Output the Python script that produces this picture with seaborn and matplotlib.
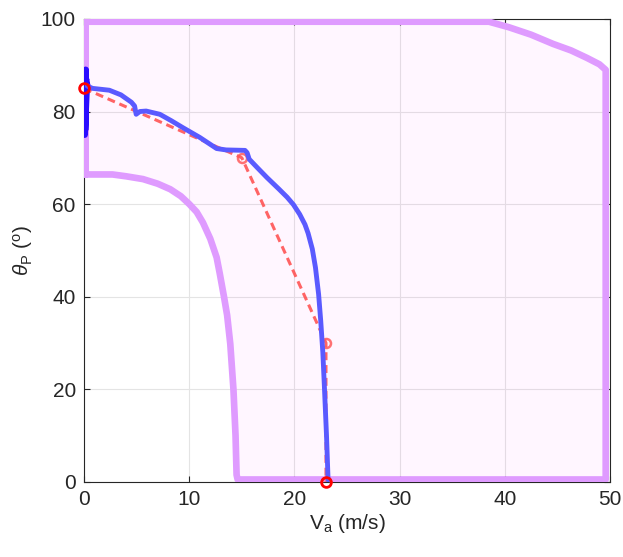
import matplotlib
matplotlib.use("Agg")
import matplotlib.pyplot as plt
import numpy as np
import pandas as pd
import seaborn as sns

# Feasible operating envelope (airspeed vs. pitch angle)
envelope_va = [0.15, 0.15, 38.5, 40.4, 42.5, 44.6, 46.3, 47.8, 49.0, 49.6,
               49.6, 14.6, 14.5, 14.4, 14.2, 13.9, 13.6, 13.3, 12.9, 12.6,
               12.0, 11.3, 10.7, 10.0, 9.2, 8.2, 7.0, 5.6, 4.0, 2.7, 0.15]
envelope_theta = [66.4, 99.4, 99.4, 98.2, 96.6, 94.6, 93.2, 91.6, 90.2, 89.0,
                  0.5, 0.5, 1.5, 10.0, 20.0, 29.8, 36.0, 40.0, 45.0, 48.5,
                  52.5, 56.0, 58.3, 60.0, 61.7, 63.2, 64.4, 65.4, 66.0, 66.4,
                  66.4]

# Initial transient at take-off
transient_va = [0.10, 0.15, 0.05, 0.15, 0.08, 0.18, 0.10, 0.25, 0.30]
transient_theta = [85.0, 89.0, 75.0, 88.0, 76.0, 87.0, 78.0, 86.0, 85.5]

# Flown transition trajectory
traj_va = [0.3, 0.8, 2.4, 3.5, 4.5, 4.8, 4.95, 5.3, 5.9, 7.2, 8.3, 9.4,
           11.0, 12.6, 13.5, 15.3, 15.5, 15.7, 16.5, 17.4, 18.5, 19.3, 19.9,
           20.5, 21.0, 21.3, 21.7, 22.0, 22.3, 22.5, 22.7, 22.85, 23.05, 23.2]
traj_theta = [85.5, 85.0, 84.6, 83.6, 82.0, 81.2, 79.4, 80.0, 80.1, 79.4,
              78.0, 76.5, 74.4, 72.0, 71.7, 71.6, 71.1, 69.7, 67.8, 65.7,
              63.3, 61.5, 59.9, 57.8, 55.6, 53.7, 50.3, 46.3, 40.5, 34.8,
              28.0, 20.5, 10.0, 0.4]

# Reference waypoints
ref_va = [0, 15, 23, 23]
ref_theta = [85, 70, 30, 0]

x_ticks = [0, 10, 20, 30, 40, 50]
y_ticks = [0, 20, 40, 60, 80, 100]

sns.set_theme(style="white")
plt.rcParams["font.family"] = ["Liberation Sans", "DejaVu Sans"]
plt.rcParams["mathtext.fontset"] = "custom"
plt.rcParams["mathtext.rm"] = "Liberation Sans"
plt.rcParams["mathtext.it"] = "Liberation Sans:italic"

text_color = "#262626"

fig = plt.figure(figsize=(6.23, 5.57), dpi=100)
ax = fig.add_axes([0.135, 0.135, 0.844, 0.831])

# envelope fill and outline
ax.fill(envelope_va, envelope_theta, color="#FF00FF", alpha=0.035, lw=0, zorder=1)
env_df = pd.DataFrame({"va": envelope_va + [envelope_va[0]],
                       "theta": envelope_theta + [envelope_theta[0]]})
sns.lineplot(data=env_df, x="va", y="theta", sort=False, estimator=None,
             color="#DF9BFF", lw=4.8, ax=ax, zorder=3)

# reference path
ref_df = pd.DataFrame({"va": ref_va, "theta": ref_theta})
sns.lineplot(data=ref_df, x="va", y="theta", sort=False, estimator=None,
             color="#FF4A4A", alpha=0.85, lw=2.2, dashes=False, ax=ax,
             zorder=4, marker="o", markersize=6.5, markerfacecolor="none",
             markeredgecolor="#FF5A5A", markeredgewidth=1.8,
             linestyle=(0, (2.6, 1.6)))

# trajectory
tr_df = pd.DataFrame({"va": transient_va, "theta": transient_theta})
sns.lineplot(data=tr_df, x="va", y="theta", sort=False, estimator=None,
             color="#2A0CFF", lw=4.8, ax=ax, zorder=5)
traj_df = pd.DataFrame({"va": traj_va, "theta": traj_theta})
sns.lineplot(data=traj_df, x="va", y="theta", sort=False, estimator=None,
             color="#5A5AFF", lw=3.5, ax=ax, zorder=6)

# start / end markers
ax.plot([ref_va[0], ref_va[-1]], [ref_theta[0], ref_theta[-1]], "o",
        ms=7, mfc="none", mec="#FF0000", mew=2.0, zorder=7, clip_on=False)

ax.set_xlim(0, 50)
ax.set_ylim(0, 100)
ax.set_xticks(x_ticks)
ax.set_yticks(y_ticks)
ax.set_xticklabels([str(v) for v in x_ticks])
ax.set_yticklabels([str(v) for v in y_ticks])
ax.grid(True, color="#E4E4E4", lw=0.8)
ax.set_axisbelow(True)
ax.tick_params(axis="both", direction="in", length=4, width=0.8,
               colors=text_color, labelsize=15, top=True, right=True,
               bottom=True, left=True, pad=6)
for s in ax.spines.values():
    s.set_color(text_color)
    s.set_linewidth(0.8)

ax.set_xlabel(r"V$_{\rm a}$ (m/s)", fontsize=15, color=text_color, labelpad=2)
ax.set_ylabel(r"$\theta_{\rm P}$ ($^{\rm o}$)", fontsize=15, color=text_color,
              labelpad=4)

fig.savefig("out.png", dpi=100)
